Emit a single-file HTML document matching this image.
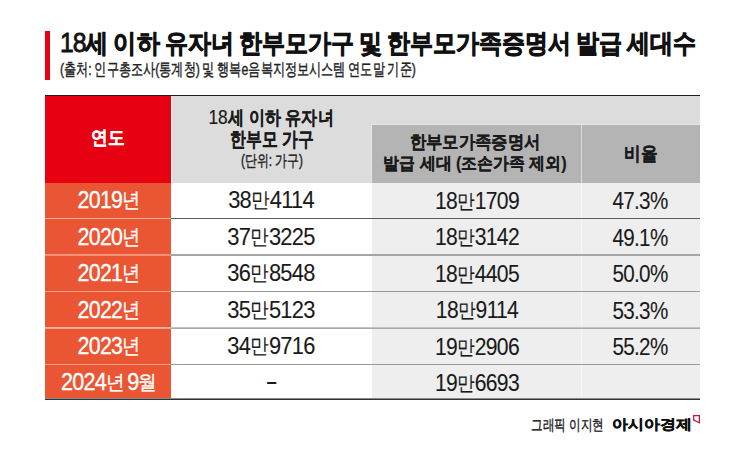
<!DOCTYPE html>
<html lang="ko">
<head>
<meta charset="utf-8">
<style>
html,body{margin:0;padding:0;background:#fff;}
body{width:745px;height:464px;position:relative;overflow:hidden;font-family:"Liberation Sans",sans-serif;color:#1a1a1a;}
.a{position:absolute;}
.t{position:absolute;white-space:nowrap;line-height:1;}
.l{transform-origin:0 50%;}
.c{text-align:center;transform-origin:50% 50%;}
</style>
</head>
<body>
<div class="a" style="left:45px;top:31px;width:5px;height:49px;background:#e60012"></div>
<div class="a" style="left:45px;top:96px;width:126px;height:87px;background:#e60012"></div>
<div class="a" style="left:172px;top:96px;width:528px;height:87px;background:#dcdcdc"></div>
<div class="a" style="left:372px;top:125px;width:209px;height:58px;background:#b4b4b4"></div>
<div class="a" style="left:582px;top:125px;width:118px;height:58px;background:#b4b4b4"></div>
<!-- faint header separators -->
<div class="a" style="left:371px;top:124px;width:329px;height:1px;background:#e6e6e6"></div>
<div class="a" style="left:371px;top:124px;width:1px;height:59px;background:#e6e6e6"></div>
<div class="a" style="left:45px;top:183px;width:126px;height:216px;background:#ea5634"></div>
<div class="a" style="left:171px;top:183px;width:201px;height:216px;background:#fff"></div>
<div class="a" style="left:372px;top:183px;width:328px;height:216px;background:#eeeeee"></div>
<div class="a" style="left:581px;top:183px;width:1px;height:216px;background:#f7f7f7"></div>
<div class="a" style="left:45px;top:218px;width:126px;height:1px;background:#f6ae95"></div>
<div class="a" style="left:171px;top:218px;width:529px;height:1px;background:#5c5c5c"></div>
<div class="a" style="left:45px;top:254px;width:126px;height:1px;background:#f0967c"></div>
<div class="a" style="left:171px;top:254px;width:529px;height:1px;background:#a6a6a6"></div>
<div class="a" style="left:45px;top:255px;width:126px;height:1px;background:#ef8f74"></div>
<div class="a" style="left:171px;top:255px;width:529px;height:1px;background:#a6a6a6"></div>
<div class="a" style="left:45px;top:291px;width:126px;height:1px;background:#f39f86"></div>
<div class="a" style="left:171px;top:291px;width:529px;height:1px;background:#979797"></div>
<div class="a" style="left:45px;top:327px;width:126px;height:1px;background:#f2b39f"></div>
<div class="a" style="left:171px;top:327px;width:529px;height:1px;background:#c4c4c4"></div>
<div class="a" style="left:45px;top:328px;width:126px;height:1px;background:#f0a58d"></div>
<div class="a" style="left:171px;top:328px;width:529px;height:1px;background:#a8a8a8"></div>
<div class="a" style="left:45px;top:364px;width:126px;height:1px;background:#f39f86"></div>
<div class="a" style="left:171px;top:364px;width:529px;height:1px;background:#999999"></div>
<div class="a" style="left:45px;top:398px;width:655px;height:1px;background:#8a8a8a"></div>
<div class="a" style="left:45px;top:399px;width:655px;height:1px;background:#333"></div>
<div class="a" style="left:45px;top:95px;width:655px;height:1px;background:#1e1e1e"></div>
<div class="t l" style="left:60.0px;top:29.4px;font-size:26.06px;font-weight:bold;color:#111;-webkit-text-stroke:0.8px #111;word-spacing:-1px;transform:scaleX(0.8862);"><span style="font-size:28.0px;letter-spacing:-1.2px;font-weight:normal;">18</span>세<span style="font-size:28.0px;letter-spacing:-1.2px;font-weight:normal;"> </span>이하<span style="font-size:28.0px;letter-spacing:-1.2px;font-weight:normal;"> </span>유자녀<span style="font-size:28.0px;letter-spacing:-1.2px;font-weight:normal;"> </span>한부모가구<span style="font-size:28.0px;letter-spacing:-1.2px;font-weight:normal;"> </span>및<span style="font-size:28.0px;letter-spacing:-1.2px;font-weight:normal;"> </span>한부모가족증명서<span style="font-size:28.0px;letter-spacing:-1.2px;font-weight:normal;"> </span>발급<span style="font-size:28.0px;letter-spacing:-1.2px;font-weight:normal;"> </span>세대수</div>
<div class="t l" style="left:60.0px;top:61.4px;font-size:16.86px;color:#222;-webkit-text-stroke:0.4px #222;word-spacing:-1px;transform:scaleX(0.7142);"><span style="font-size:17.17px;">(</span>출처<span style="font-size:17.17px;">: </span>인구총조사<span style="font-size:17.17px;">(</span>통계청<span style="font-size:17.17px;">) </span>및<span style="font-size:17.17px;"> </span>행복<span style="font-size:17.17px;">e</span>음복지정보시스템<span style="font-size:17.17px;"> </span>연도말<span style="font-size:17.17px;"> </span>기준<span style="font-size:17.17px;">)</span></div>
<div class="t c" style="left:-192.1px;width:600px;top:129.4px;font-size:18.54px;font-weight:bold;color:#fff;-webkit-text-stroke:0.25px #fff;transform:scaleX(0.8785);">연도</div>
<div class="t c" style="left:-28.7px;width:600px;top:106.8px;font-size:18.64px;font-weight:bold;-webkit-text-stroke:0.2px #1a1a1a;transform:scaleX(0.8441);"><span style="font-size:20.5px;letter-spacing:0px;font-weight:normal;vertical-align:-0.5px;">18</span>세<span style="font-size:20.5px;letter-spacing:0px;font-weight:normal;vertical-align:-0.5px;"> </span>이하<span style="font-size:20.5px;letter-spacing:0px;font-weight:normal;vertical-align:-0.5px;"> </span>유자녀</div>
<div class="t c" style="left:-28.0px;width:600px;top:129.0px;font-size:20.0px;font-weight:bold;-webkit-text-stroke:0.2px #1a1a1a;transform:scaleX(0.7915);">한부모<span style="font-size:19.6px;"> </span>가구</div>
<div class="t c" style="left:-28.1px;width:600px;top:152.7px;font-size:15.75px;color:#222;-webkit-text-stroke:0.4px #222;transform:scaleX(0.7438);"><span style="font-size:15.75px;">(</span>단위<span style="font-size:15.75px;">: </span>가구<span style="font-size:15.75px;">)</span></div>
<div class="t c" style="left:174.8px;width:600px;top:134.3px;font-size:17.93px;font-weight:bold;-webkit-text-stroke:0.2px #1a1a1a;transform:scaleX(0.9085);">한부모가족증명서</div>
<div class="t c" style="left:175.0px;width:600px;top:154.5px;font-size:17.49px;font-weight:bold;-webkit-text-stroke:0.2px #1a1a1a;transform:scaleX(0.9336);">발급<span style="font-size:17.49px;"> </span>세대<span style="font-size:17.49px;"> (</span>조손가족<span style="font-size:17.49px;"> </span>제외<span style="font-size:17.49px;">)</span></div>
<div class="t c" style="left:340.7px;width:600px;top:144.7px;font-size:18.64px;font-weight:bold;-webkit-text-stroke:0.2px #1a1a1a;transform:scaleX(0.8739);">비율</div>
<div class="t c" style="left:-191.5px;width:600px;top:188.2px;font-size:20.84px;color:#fff;-webkit-text-stroke:0.35px #fff;transform:scaleX(0.8625);"><span style="font-size:24.72px;letter-spacing:-0.8px;vertical-align:-1.5px;">2019</span>년</div>
<div class="t c" style="left:-28.8px;width:600px;top:188.3px;font-size:20.72px;-webkit-text-stroke:0.1px #1a1a1a;transform:scaleX(0.8902);"><span style="font-size:24.56px;letter-spacing:-0.8px;vertical-align:-1.5px;">38</span>만<span style="font-size:24.56px;letter-spacing:-0.8px;vertical-align:-1.5px;">4114</span></div>
<div class="t c" style="left:176.8px;width:600px;top:188.9px;font-size:20.13px;-webkit-text-stroke:0.1px #1a1a1a;transform:scaleX(0.8847);"><span style="font-size:23.85px;letter-spacing:-0.8px;vertical-align:-1.5px;">18</span>만<span style="font-size:23.85px;letter-spacing:-0.8px;vertical-align:-1.5px;">1709</span></div>
<div class="t c" style="left:340.0px;width:600px;top:189.2px;font-size:20.82px;-webkit-text-stroke:0.1px #1a1a1a;transform:scaleX(0.835);"><span style="font-size:24.7px;letter-spacing:-0.8px;vertical-align:-1.5px;">47.3%</span></div>
<div class="t c" style="left:-191.5px;width:600px;top:224.7px;font-size:20.84px;color:#fff;-webkit-text-stroke:0.35px #fff;transform:scaleX(0.8625);"><span style="font-size:24.72px;letter-spacing:-0.8px;vertical-align:-1.5px;">2020</span>년</div>
<div class="t c" style="left:-28.8px;width:600px;top:224.8px;font-size:20.72px;-webkit-text-stroke:0.1px #1a1a1a;transform:scaleX(0.8902);"><span style="font-size:24.56px;letter-spacing:-0.8px;vertical-align:-1.5px;">37</span>만<span style="font-size:24.56px;letter-spacing:-0.8px;vertical-align:-1.5px;">3225</span></div>
<div class="t c" style="left:176.8px;width:600px;top:225.4px;font-size:20.13px;-webkit-text-stroke:0.1px #1a1a1a;transform:scaleX(0.8847);"><span style="font-size:23.85px;letter-spacing:-0.8px;vertical-align:-1.5px;">18</span>만<span style="font-size:23.85px;letter-spacing:-0.8px;vertical-align:-1.5px;">3142</span></div>
<div class="t c" style="left:340.0px;width:600px;top:225.7px;font-size:20.82px;-webkit-text-stroke:0.1px #1a1a1a;transform:scaleX(0.835);"><span style="font-size:24.7px;letter-spacing:-0.8px;vertical-align:-1.5px;">49.1%</span></div>
<div class="t c" style="left:-191.5px;width:600px;top:261.2px;font-size:20.84px;color:#fff;-webkit-text-stroke:0.35px #fff;transform:scaleX(0.8625);"><span style="font-size:24.72px;letter-spacing:-0.8px;vertical-align:-1.5px;">2021</span>년</div>
<div class="t c" style="left:-28.8px;width:600px;top:261.3px;font-size:20.72px;-webkit-text-stroke:0.1px #1a1a1a;transform:scaleX(0.8902);"><span style="font-size:24.56px;letter-spacing:-0.8px;vertical-align:-1.5px;">36</span>만<span style="font-size:24.56px;letter-spacing:-0.8px;vertical-align:-1.5px;">8548</span></div>
<div class="t c" style="left:176.8px;width:600px;top:261.9px;font-size:20.13px;-webkit-text-stroke:0.1px #1a1a1a;transform:scaleX(0.8847);"><span style="font-size:23.85px;letter-spacing:-0.8px;vertical-align:-1.5px;">18</span>만<span style="font-size:23.85px;letter-spacing:-0.8px;vertical-align:-1.5px;">4405</span></div>
<div class="t c" style="left:340.0px;width:600px;top:262.2px;font-size:20.82px;-webkit-text-stroke:0.1px #1a1a1a;transform:scaleX(0.835);"><span style="font-size:24.7px;letter-spacing:-0.8px;vertical-align:-1.5px;">50.0%</span></div>
<div class="t c" style="left:-191.5px;width:600px;top:297.7px;font-size:20.84px;color:#fff;-webkit-text-stroke:0.35px #fff;transform:scaleX(0.8625);"><span style="font-size:24.72px;letter-spacing:-0.8px;vertical-align:-1.5px;">2022</span>년</div>
<div class="t c" style="left:-28.8px;width:600px;top:297.8px;font-size:20.72px;-webkit-text-stroke:0.1px #1a1a1a;transform:scaleX(0.8902);"><span style="font-size:24.56px;letter-spacing:-0.8px;vertical-align:-1.5px;">35</span>만<span style="font-size:24.56px;letter-spacing:-0.8px;vertical-align:-1.5px;">5123</span></div>
<div class="t c" style="left:176.8px;width:600px;top:298.4px;font-size:20.13px;-webkit-text-stroke:0.1px #1a1a1a;transform:scaleX(0.8847);"><span style="font-size:23.85px;letter-spacing:-0.8px;vertical-align:-1.5px;">18</span>만<span style="font-size:23.85px;letter-spacing:-0.8px;vertical-align:-1.5px;">9114</span></div>
<div class="t c" style="left:340.0px;width:600px;top:298.7px;font-size:20.82px;-webkit-text-stroke:0.1px #1a1a1a;transform:scaleX(0.835);"><span style="font-size:24.7px;letter-spacing:-0.8px;vertical-align:-1.5px;">53.3%</span></div>
<div class="t c" style="left:-191.5px;width:600px;top:334.2px;font-size:20.84px;color:#fff;-webkit-text-stroke:0.35px #fff;transform:scaleX(0.8625);"><span style="font-size:24.72px;letter-spacing:-0.8px;vertical-align:-1.5px;">2023</span>년</div>
<div class="t c" style="left:-28.8px;width:600px;top:334.3px;font-size:20.72px;-webkit-text-stroke:0.1px #1a1a1a;transform:scaleX(0.8902);"><span style="font-size:24.56px;letter-spacing:-0.8px;vertical-align:-1.5px;">34</span>만<span style="font-size:24.56px;letter-spacing:-0.8px;vertical-align:-1.5px;">9716</span></div>
<div class="t c" style="left:176.8px;width:600px;top:334.9px;font-size:20.13px;-webkit-text-stroke:0.1px #1a1a1a;transform:scaleX(0.8847);"><span style="font-size:23.85px;letter-spacing:-0.8px;vertical-align:-1.5px;">19</span>만<span style="font-size:23.85px;letter-spacing:-0.8px;vertical-align:-1.5px;">2906</span></div>
<div class="t c" style="left:340.0px;width:600px;top:335.2px;font-size:20.82px;-webkit-text-stroke:0.1px #1a1a1a;transform:scaleX(0.835);"><span style="font-size:24.7px;letter-spacing:-0.8px;vertical-align:-1.5px;">55.2%</span></div>
<div class="t c" style="left:-190.8px;width:600px;top:371.0px;font-size:19.5px;color:#fff;-webkit-text-stroke:0.35px #fff;word-spacing:-3px;transform:scaleX(0.9342);"><span style="font-size:23.13px;letter-spacing:-0.8px;vertical-align:-1.5px;">2024</span>년<span style="font-size:23.13px;letter-spacing:-0.8px;vertical-align:-1.5px;"> 9</span>월</div>
<div class="t c" style="left:-28.8px;width:600px;top:368.8px;font-size:20.72px;-webkit-text-stroke:0.1px #1a1a1a;transform:scaleX(1.5);"><span style="font-size:24.56px;letter-spacing:-0.8px;vertical-align:-1.5px;">-</span></div>
<div class="t c" style="left:176.8px;width:600px;top:371.4px;font-size:20.13px;-webkit-text-stroke:0.1px #1a1a1a;transform:scaleX(0.8847);"><span style="font-size:23.85px;letter-spacing:-0.8px;vertical-align:-1.5px;">19</span>만<span style="font-size:23.85px;letter-spacing:-0.8px;vertical-align:-1.5px;">6693</span></div>
<div class="t l" style="left:531.0px;top:418.3px;font-size:14.87px;color:#1a1a1a;-webkit-text-stroke:0.35px #1a1a1a;transform:scaleX(0.7723);">그래픽 이지현</div>
<div class="t l" style="left:611.6px;top:416.6px;font-size:14.17px;font-weight:bold;color:#111;-webkit-text-stroke:0.4px #111;transform:scaleX(1.1383);">아시아경제</div>
<svg class="a" style="left:690px;top:412px" width="14" height="15" viewBox="690 412 14 15"><path d="M693.7 415.6 H699.4 V422.8 L693.7 420.2 Z" fill="none" stroke="#c8173c" stroke-width="1.3" stroke-linejoin="miter"/></svg>
</body>
</html>
